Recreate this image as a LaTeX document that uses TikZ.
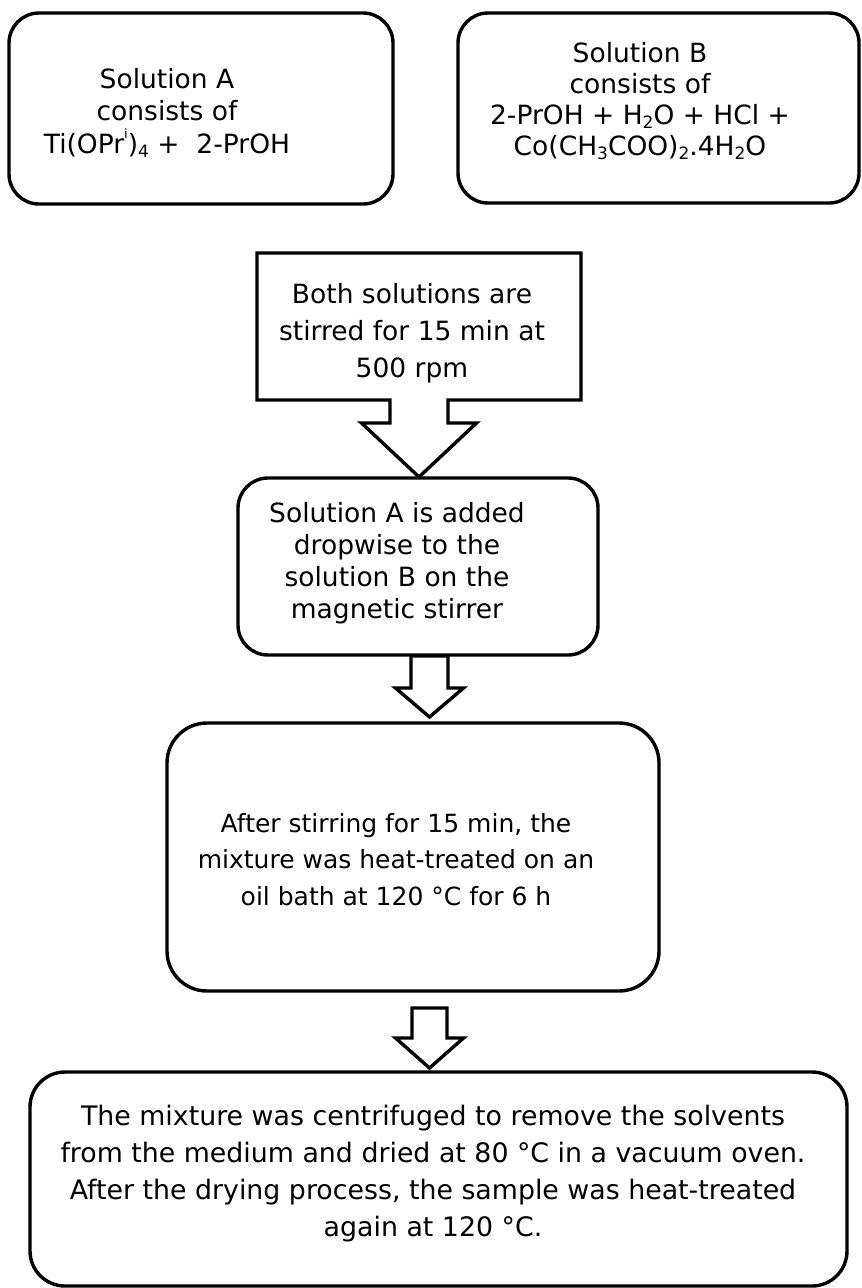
\documentclass[tikz,border=0pt]{standalone}
\usepackage{fontspec}
\setmainfont{DejaVu Sans}
\usetikzlibrary{calc}
\newcommand\chsub[1]{\raisebox{-0.18em}{\fontsize{17}{17}\selectfont #1}}
\newcommand\chsup[1]{\raisebox{0.55em}{\fontsize{13}{13}\selectfont #1}}
\newcommand\barrow[5]{%
  \draw[outline] ($(#1)+(-#3,0)$) -- ($(#1)+(#3,0)$) -- ($(#1)+(#3,#5)$) -- ($(#1)+(#4,#5)$)
    -- (#2) -- ($(#1)+(-#4,#5)$) -- ($(#1)+(-#3,#5)$) -- cycle;}
\begin{document}
\begin{tikzpicture}[x=1pt,y=-1pt,
  outline/.style={draw=black, line width=3.4pt, line join=miter},
  rbox/.style={draw=black, line width=3.4pt, rounded corners=#1, inner sep=0pt, outer sep=0pt},
  plainbox/.style={inner sep=0pt, outer sep=0pt},
  txt/.style={anchor=base, align=center, inner sep=0pt, text=black},
]
\useasboundingbox[fill=white] (0,0) rectangle (862,1288);

% boxes
\node[rbox=30pt, minimum width=384pt, minimum height=191pt] (boxA) at (201,108.5) {};
\node[rbox=30pt, minimum width=401pt, minimum height=190pt] (boxB) at (658.5,108) {};
\node[plainbox, minimum width=324pt, minimum height=147pt] (both) at (419,326.5) {};
\node[rbox=30pt, minimum width=360pt, minimum height=177pt] (boxC) at (418,566.5) {};
\node[rbox=40pt, minimum width=492pt, minimum height=268pt] (boxD) at (413,857) {};
\node[rbox=35pt, minimum width=817pt, minimum height=214pt] (boxE) at (438.5,1179) {};

% callout box with arrow
\coordinate (a1tip) at (419,477);
\draw[outline] (both.south west) -- (both.north west) -- (both.north east) -- (both.south east)
  -- ($(both.south)+(29,0)$) -- ($(both.south)+(29,23)$) -- ($(both.south)+(57.5,23)$)
  -- (a1tip) -- ($(both.south)+(-57.5,23)$) -- ($(both.south)+(-29,23)$)
  -- ($(both.south)+(-29,0)$) -- cycle;

% block arrows
\coordinate (a2top) at (429.5,656);
\coordinate (a2tip) at (429.5,717);
\barrow{a2top}{a2tip}{18.5}{34}{32}
\coordinate (a3top) at (429.5,1008);
\coordinate (a3tip) at (429.5,1068);
\barrow{a3top}{a3tip}{17.5}{34}{30}

% texts (anchor = baseline of last line)
\node[txt, font=\fontsize{26.5}{32.5}\selectfont] (tA) at (167,153)
  {Solution A\\consists of\\Ti(OPr\chsup{i})\chsub{4} +~~2-PrOH};
\node[txt, font=\fontsize{26.5}{31}\selectfont] (tB) at (640,155)
  {Solution B\\consists of\\2-PrOH + H\chsub{2}O + HCl +\\Co(CH\chsub{3}COO)\chsub{2}.4H\chsub{2}O};
\node[txt, font=\fontsize{26.5}{37}\selectfont] (tBoth) at (412,377)
  {Both solutions are\\stirred for 15 min at\\500 rpm};
\node[txt, font=\fontsize{26.5}{31.7}\selectfont] (tC) at (397,618)
  {Solution A is added\\dropwise to the\\solution B on the\\magnetic stirrer};
\node[txt, font=\fontsize{25}{36.5}\selectfont] (tD) at (396,905)
  {After stirring for 15 min, the\\mixture was heat-treated on an\\oil bath at 120 °C for 6 h};
\node[txt, font=\fontsize{26.8}{37}\selectfont] (tE) at (433,1236)
  {The mixture was centrifuged to remove the solvents\\from the medium and dried at 80 °C in a vacuum oven.\\After the drying process, the sample was heat-treated\\again at 120 °C.};
\end{tikzpicture}
\end{document}
